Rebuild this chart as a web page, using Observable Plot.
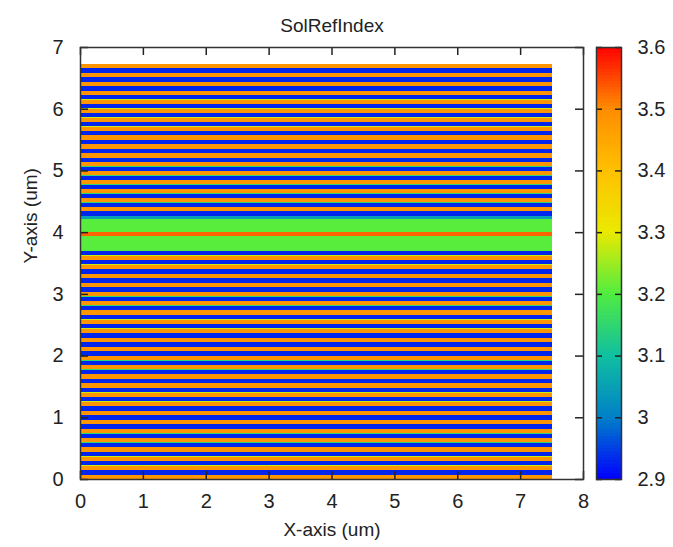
<!DOCTYPE html>
<html>
<head>
<meta charset="utf-8">
<script src="https://cdn.jsdelivr.net/npm/d3@7"></script>
<script src="https://cdn.jsdelivr.net/npm/@observablehq/plot@0.6"></script>
<style>
  body { margin: 0; background: #fff; }
  #chart { position: relative; width: 673px; height: 547px; font-family: "Liberation Sans", Arial, sans-serif; }
  #chart svg { position: absolute; left: 0; top: 0; }
</style>
</head>
<body>
<div id="chart"></div>
<script>
// Refractive index profile of a vertical cavity: bottom DBR, cavity with active layer, top DBR.
const stripeWidth = 7.5;           // lateral extent of the profile (um)

// Bottom mirror: one period (high index, grade, low index, grade)
const bottomPairIndex = [3.48, 3.28, 2.93, 3.15];
const bottomPairThickness = [0.068, 0.004, 0.072, 0.004];
const bottomPairs = 25;

// Cavity (bottom to top): spacer, active layer, spacer, aperture layer
const cavityIndex = [3.205, 3.53, 3.205, 3.05];
const cavityThickness = [0.24, 0.07, 0.21, 0.045];

// Top mirror: one period (low index, grade, high index, grade)
const topPairIndex = [2.93, 3.15, 3.48, 3.28];
const topPairThickness = [0.070, 0.004, 0.067, 0.004];
const topPairs = 17;

// Axes and colour bar
const xTicks = [0, 1, 2, 3, 4, 5, 6, 7, 8];
const yTicks = [0, 1, 2, 3, 4, 5, 6, 7];
const cTicks = [2.9, 3.0, 3.1, 3.2, 3.3, 3.4, 3.5, 3.6];
const colorStops = [2.9, 3.0, 3.1, 3.2, 3.3, 3.4, 3.5, 3.6];
const colorRange = ["#0000ff", "#0080c8", "#10c0a0", "#50ec40", "#eaea00", "#ffc000", "#ff8c00", "#ff0000"];

// Stack the layers from the substrate upward
const layers = [];
let z = 0;
function addLayer(n, t) { layers.push({n, y0: z, y1: z + t}); z += t; }
for (let p = 0; p < bottomPairs; p++)
  bottomPairIndex.forEach((n, i) => addLayer(n, bottomPairThickness[i]));
cavityIndex.forEach((n, i) => addLayer(n, cavityThickness[i]));
for (let p = 0; p < topPairs; p++)
  topPairIndex.forEach((n, i) => addLayer(n, topPairThickness[i]));

const W = 673, H = 547;
const mTop = 47, mBottom = 68, mLeft = 80, mRight = 90;
const frameW = W - mLeft - mRight, frameH = H - mTop - mBottom;
const font = {fontFamily: "'Liberation Sans', Arial, sans-serif", fontSize: "20px", color: "#222", background: "transparent", overflow: "visible"};
const colorScale = {type: "linear", domain: colorStops, range: colorRange, interpolate: "rgb", clamp: true};
const tickLen = 8;
const fmt = d => String(+d.toFixed(1));

const main = Plot.plot({
  width: W, height: H,
  marginTop: mTop, marginBottom: mBottom, marginLeft: mLeft, marginRight: mRight,
  style: font,
  x: {domain: [0, 8], ticks: xTicks, tickSize: 0, tickPadding: 14, label: null, tickFormat: fmt},
  y: {domain: [0, 7], ticks: yTicks, tickSize: 0, tickPadding: 17, label: null, tickFormat: fmt},
  color: colorScale,
  marks: [
    Plot.rect(layers, {x1: 0, x2: stripeWidth, y1: "y0", y2: "y1", fill: "n", shapeRendering: "crispEdges"}),
    Plot.tickX(xTicks, {x: d => d, insetTop: frameH - tickLen, stroke: "#222", strokeWidth: 1.5}),
    Plot.tickX(xTicks, {x: d => d, insetBottom: frameH - tickLen, stroke: "#222", strokeWidth: 1.5}),
    Plot.tickY(yTicks, {y: d => d, insetRight: frameW - tickLen, stroke: "#222", strokeWidth: 1.5}),
    Plot.tickY(yTicks, {y: d => d, insetLeft: frameW - tickLen, stroke: "#222", strokeWidth: 1.5}),
    Plot.frame({stroke: "#333", strokeWidth: 1.5}),
    Plot.text(["SolRefIndex"], {frameAnchor: "top", dy: -29, fontSize: 19, fill: "#222"}),
    Plot.text(["X-axis (um)"], {frameAnchor: "bottom", dy: 56, fontSize: 19, fill: "#222"}),
    Plot.text(["Y-axis (um)"], {frameAnchor: "left", dx: -50, rotate: -90, fontSize: 19, fill: "#222"})
  ]
});

// Colour bar drawn with the same colour scale
const barStep = 0.005;
const barSlices = d3.range(0, 140).map(i => 2.9 + i * barStep);
const barLeft = 596, barRight = 52, barTick = 6;
const bar = Plot.plot({
  width: W, height: H,
  marginTop: mTop, marginBottom: mBottom, marginLeft: barLeft, marginRight: barRight,
  style: font,
  x: {domain: [0, 1], axis: null},
  y: {domain: [2.9, 3.6], ticks: cTicks, axis: "right", tickSize: 0, tickPadding: 16, label: null, tickFormat: fmt},
  color: colorScale,
  marks: [
    Plot.rect(barSlices, {x1: 0, x2: 1, y1: d => d, y2: d => d + barStep, fill: d => d + barStep / 2, shapeRendering: "crispEdges"}),
    Plot.tickY(cTicks, {y: d => d, insetRight: (W - barLeft - barRight) - barTick, stroke: "#222", strokeWidth: 1.5}),
    Plot.tickY(cTicks, {y: d => d, insetLeft: (W - barLeft - barRight) - barTick, stroke: "#222", strokeWidth: 1.5}),
    Plot.frame({stroke: "#333", strokeWidth: 1.5})
  ]
});

const root = document.getElementById("chart");
root.appendChild(main);
root.appendChild(bar);
</script>
</body>
</html>
